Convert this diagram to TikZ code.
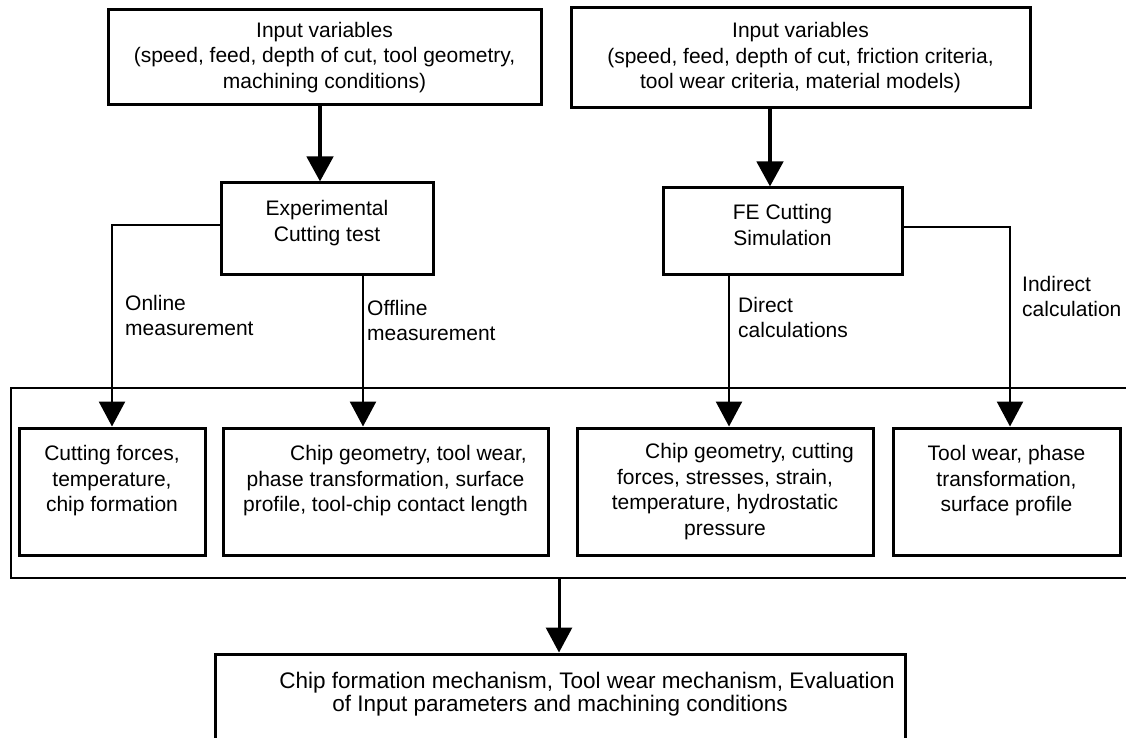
\documentclass[tikz,border=0pt]{standalone}
\usepackage{fontspec}
\setmainfont{Liberation Sans}
\usetikzlibrary{arrows.meta}
\begin{document}
\begin{tikzpicture}[x=1pt,y=-1pt,
  font=\fontsize{21}{25.5}\selectfont,
  box/.style={draw, line width=3pt, align=center, inner sep=0pt},
  arr/.style={-{Triangle[width=26pt,length=25pt]}},
  lab/.style={anchor=north west, align=left, inner sep=0pt}]
\path[use as bounding box, clip] (0,0) rectangle (1126,738);
\fill[white] (0,0) rectangle (1126,738);

% top inputs
\node[box, minimum width=433pt, minimum height=95pt] (in1) at (324.5,57.5)
  {Input variables\\(speed, feed, depth of cut, tool geometry,\\machining conditions)};
\node[box, minimum width=459pt, minimum height=100pt] (in2) at (800.5,58)
  {Input variables\\(speed, feed, depth of cut, friction criteria,\\tool wear criteria, material models)};

% processes
\node[box, minimum width=212pt, minimum height=91pt] (exp) at (327,228.5)
  {Experimental\\Cutting test\\[-10pt]\mbox{}};
\node[box, minimum width=239pt, minimum height=86pt] (fe) at (782.5,231)
  {FE Cutting\\Simulation\\[-13pt]\mbox{}};

% container
\node[draw, line width=2.3pt, minimum width=1129pt, minimum height=190pt, inner sep=0pt] (grp) at (575.5,483) {};

% results
\node[box, minimum width=186pt, minimum height=127pt] (box1) at (112,491.5)
  {Cutting forces,\\temperature,\\chip formation\\\mbox{}};
\node[box, minimum width=325pt, minimum height=127pt] (box2) at (385.5,491.5)
  {\hspace*{46pt}Chip geometry, tool wear,\\phase transformation, surface\\profile, tool-chip contact length\\\mbox{}};
\node[box, minimum width=296pt, minimum height=127pt] (box3) at (725,491.5)
  {\hspace*{49pt}Chip geometry, cutting\\forces, stresses, strain,\\temperature, hydrostatic\\pressure};
\node[box, minimum width=227pt, minimum height=127pt] (box4) at (1006.5,491.5)
  {Tool wear, phase\\transformation,\\surface profile\\\mbox{}};

% final
\node[box, minimum width=690pt, minimum height=120pt, font=\fontsize{22.5}{23}\selectfont] (res) at (560,714)
  {\hspace*{54pt}Chip formation mechanism, Tool wear mechanism, Evaluation\\of Input parameters and machining conditions\\[22pt]\mbox{}};

% helper x positions
\coordinate (a1) at (320,0);
\coordinate (a2) at (770,0);
\coordinate (a3) at (363,0);
\coordinate (a5) at (729,0);
\coordinate (a6) at (1010,0);
\coordinate (a4) at (559,0);

% connectors
\draw[arr, line width=4.5pt] (in1.south -| a1) -- (exp.north -| a1);
\draw[arr, line width=4.5pt] (in2.south -| a2) -- (fe.north -| a2);
\draw[arr, line width=2.5pt] ([yshift=3.5pt]exp.west) -| (box1.north);
\draw[arr, line width=2.5pt] (exp.south -| a3) -- (box2.north -| a3);
\draw[arr, line width=2.5pt] (fe.south -| a5) -- (box3.north -| a5);
\draw[arr, line width=2.5pt] ([yshift=4pt]fe.east) -| (box4.north -| a6);
\draw[arr, line width=3pt] (grp.south -| a4) -- (res.north -| a4);

% labels
\node[lab] (lon) at (125,295) {Online\\measurement};
\node[lab] (loff) at (367,300) {Offline\\measurement};
\node[lab] (ldir) at (738,297) {Direct\\calculations};
\node[lab] (lind) at (1022,276) {Indirect\\calculation};
\end{tikzpicture}
\end{document}
